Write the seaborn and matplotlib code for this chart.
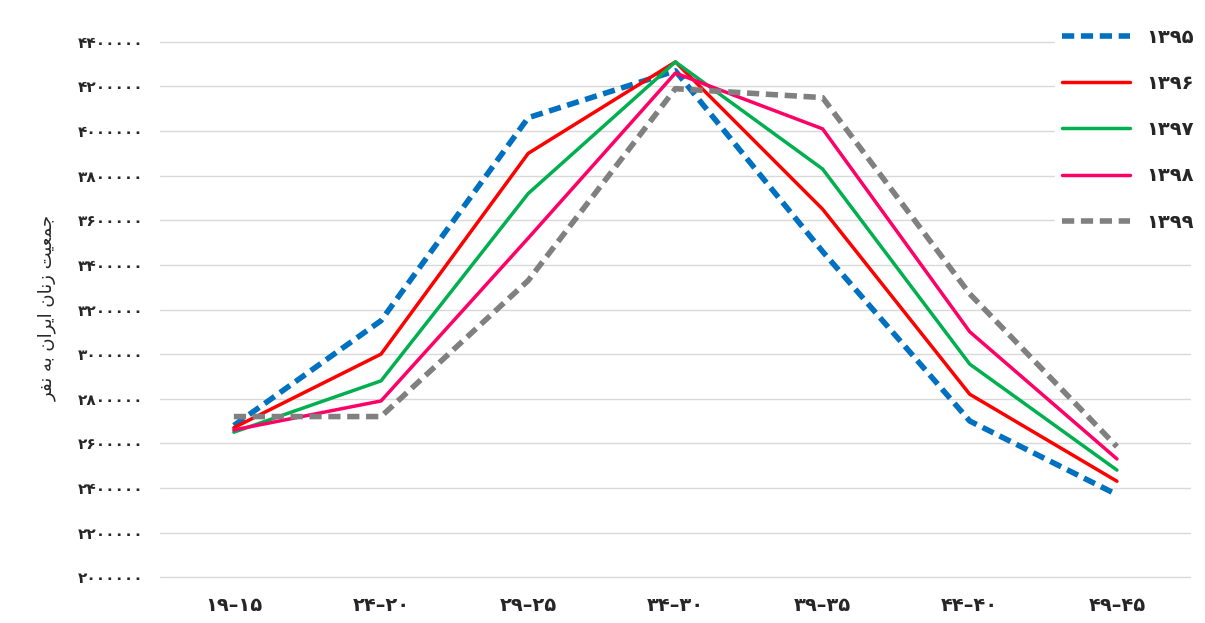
import matplotlib
matplotlib.use("Agg")
import matplotlib.pyplot as plt
import seaborn as sns
import pandas as pd

# age groups (visual order as shown), and series per year
age_groups = ["۱۹–۱۵", "۲۴–۲۰", "۲۹–۲۵", "۳۴–۳۰", "۳۹–۳۵", "۴۴–۴۰", "۴۹–۴۵"]
years = ["۱۳۹۵", "۱۳۹۶", "۱۳۹۷", "۱۳۹۸", "۱۳۹۹"]
v1395 = [2680000, 3150000, 4060000, 4270000, 3460000, 2700000, 2370000]
v1396 = [2670000, 3000000, 3900000, 4310000, 3650000, 2820000, 2430000]
v1397 = [2650000, 2880000, 3720000, 4310000, 3830000, 2955000, 2480000]
v1398 = [2660000, 2790000, 3520000, 4260000, 4010000, 3100000, 2530000]
v1399 = [2720000, 2720000, 3330000, 4190000, 4150000, 3270000, 2585000]
series = [v1395, v1396, v1397, v1398, v1399]
colors = ["#0070C0", "#FF0000", "#00B050", "#FF0066", "#808080"]
dashed = [True, False, False, False, True]
ylabel = "جمعیت زنان ایران به نفر"

# tiny Persian shaper: (isolated, final, initial, medial); 2-form letters don't join left
FORMS = {
    "ج": (0xFE9D, 0xFE9E, 0xFE9F, 0xFEA0), "م": (0xFEE1, 0xFEE2, 0xFEE3, 0xFEE4),
    "ع": (0xFEC9, 0xFECA, 0xFECB, 0xFECC), "ی": (0xFBFC, 0xFBFD, 0xFBFE, 0xFBFF),
    "ت": (0xFE95, 0xFE96, 0xFE97, 0xFE98), "ن": (0xFEE5, 0xFEE6, 0xFEE7, 0xFEE8),
    "ب": (0xFE8F, 0xFE90, 0xFE91, 0xFE92), "ه": (0xFEE9, 0xFEEA, 0xFEEB, 0xFEEC),
    "ف": (0xFED1, 0xFED2, 0xFED3, 0xFED4),
    "ز": (0xFEAF, 0xFEB0), "ا": (0xFE8D, 0xFE8E), "ر": (0xFEAD, 0xFEAE),
}


def shape(text):
    out = []
    for i, ch in enumerate(text):
        if ch not in FORMS:
            out.append(ch)
            continue
        prev = text[i - 1] if i > 0 else " "
        nxt = text[i + 1] if i + 1 < len(text) else " "
        jp = prev in FORMS and len(FORMS[prev]) == 4
        jn = nxt in FORMS and len(FORMS[ch]) == 4
        f = FORMS[ch]
        if jp and jn:
            out.append(chr(f[3]))
        elif jp:
            out.append(chr(f[1]))
        elif jn:
            out.append(chr(f[2]))
        else:
            out.append(chr(f[0]))
    return "".join(out)[::-1]


rows = []
for y, vals in zip(years, series):
    for i, v in enumerate(vals):
        rows.append({"age": i, "year": y, "value": v})
df = pd.DataFrame(rows)

sns.set_style("white")
plt.rcParams["font.family"] = ["DejaVu Sans"]

fig, ax = plt.subplots(figsize=(12.05, 6.23), dpi=100)
fig.subplots_adjust(left=0.133, right=0.988, top=0.94, bottom=0.07)

for y, c, d in zip(years, colors, dashed):
    sub = df[df["year"] == y]
    sns.lineplot(data=sub, x="age", y="value", ax=ax, color=c, label=y,
                 linewidth=4 if d else 2.5, linestyle=(0, (2.2, 1.2)) if d else "-")

fa = str.maketrans("0123456789", "۰۱۲۳۴۵۶۷۸۹")
yt = list(range(2000000, 4400001, 200000))
ax.set_yticks(yt)
ax.set_yticklabels([str(t).translate(fa) for t in yt], fontweight="bold", fontsize=11)
ax.set_ylim(1990000, 4420000)
ax.set_xticks(range(len(age_groups)))
ax.set_xticklabels(age_groups, fontweight="bold", fontsize=14)
ax.set_xlim(-0.5, 6.5)
ax.grid(axis="y", color="#D9D9D9", linewidth=1)
for s in ax.spines.values():
    s.set_visible(False)
ax.tick_params(axis="both", length=0, pad=12)
ax.set_xlabel("")
ax.set_ylabel(shape(ylabel), fontsize=13, labelpad=15)

leg = ax.legend(loc="upper right", bbox_to_anchor=(1.02, 1.05), frameon=True,
                facecolor="white", edgecolor="white", framealpha=1,
                fontsize=14, labelspacing=1.4, handlelength=3.5)
for t in leg.get_texts():
    t.set_fontweight("bold")

fig.savefig("out.png", dpi=100)
